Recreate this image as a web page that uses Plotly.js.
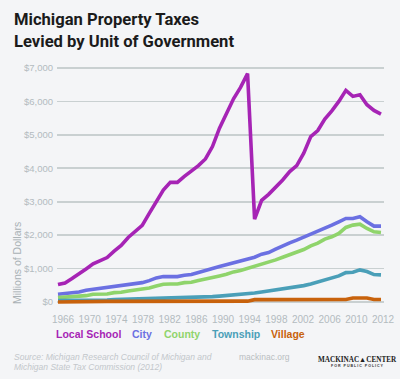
<!DOCTYPE html>
<html>
<head>
<meta charset="utf-8">
<script src="https://cdn.plot.ly/plotly-3.0.1.min.js"></script>
<style>
  html, body { margin: 0; padding: 0; background: #f4f5f7; }
  #chart { width: 400px; height: 379px; }
</style>
</head>
<body>
<div id="chart"></div>
<script>
// ---------------- data ----------------
const years = [1966,1967,1968,1969,1970,1971,1972,1973,1974,1975,1976,1977,1978,1979,1980,
  1981,1982,1983,1984,1985,1986,1987,1988,1989,1990,1991,1992,1993,1994,1995,1996,1997,1998,
  1999,2000,2001,2002,2003,2004,2005,2006,2007,2008,2009,2010,2011,2012];

const localSchool = [520,570,700,860,990,1140,1250,1330,1520,1690,1930,2110,2290,2650,2980,
  3350,3580,3580,3760,3920,4080,4280,4650,5200,5620,6080,6420,6830,2480,3040,3220,3430,3650,
  3900,4080,4450,4950,5130,5470,5720,6000,6330,6150,6200,5900,5730,5620];

const city = [230,250,260,300,350,380,390,420,470,480,520,540,580,640,720,
  760,760,760,800,820,880,950,1000,1060,1120,1170,1230,1290,1340,1430,1480,1580,1680,
  1770,1850,1950,2030,2120,2200,2300,2400,2500,2500,2550,2400,2270,2270];

const county = [130,140,170,180,190,230,230,240,280,290,330,360,370,420,480,
  530,540,540,580,590,640,680,730,780,830,900,940,1000,1070,1130,1190,1260,1340,
  1420,1500,1570,1680,1760,1880,1950,2050,2230,2300,2330,2200,2100,2080];

const township = [40,40,40,45,50,50,50,55,70,75,80,85,95,110,120,
  130,135,135,135,135,140,150,160,175,190,210,230,250,270,300,330,350,380,
  410,450,490,540,600,650,700,780,880,890,960,910,820,810];

const village = [0,5,20,20,20,20,20,20,20,20,20,20,20,20,20,
  20,20,20,20,20,20,20,20,20,25,25,25,25,70,70,70,70,70,
  70,70,70,75,75,75,75,75,75,120,120,120,75,75];

const seriesNames = ['Local School','City','County','Township','Village'];
const seriesValues = [localSchool, city, county, township, village];
const seriesColors = ['#a624b5','#6b70e2','#8fd46b','#4a9fb8','#c8620c'];

const xTickLabels = ['1966','1970','1974','1978','1982','1986','1990','1994','1998','2002','2006','2010','2012'];
const yTickValues = [0,1000,2000,3000,4000,5000,6000,7000];
const yTickLabels = ['$0','$1,000','$2,000','$3,000','$4,000','$5,000','$6,000','$7,000'];

// ---------------- layout helpers (pixel -> paper) ----------------
const W = 400, H = 379;
const M = {l: 57, r: 16, t: 60, b: 71};
const PW = W - M.l - M.r, PH = H - M.t - M.b;
const px = x => (x - M.l) / PW;
const py = y => (H - M.b - y) / PH;

const traces = seriesNames.map((name, i) => ({
  type: 'scatter', mode: 'lines', name: name,
  x: years, y: seriesValues[i],
  line: {color: seriesColors[i], width: 3.6},
  xaxis: 'x', yaxis: 'y', hoverinfo: 'skip'
}));
// invisible trace carrying the label axis
traces.push({
  type: 'scatter', mode: 'lines', x: xTickLabels, y: xTickLabels.map(() => null),
  xaxis: 'x2', yaxis: 'y', showlegend: false, hoverinfo: 'skip'
});

const tickFont = {family: 'Liberation Sans, Arial, sans-serif', size: 10, color: '#b3bbbf'};
const titleFont = {family: 'Roboto, Liberation Sans, Arial, sans-serif', size: 16.6, color: '#1b1b1b'};

const annotations = [];
// title
annotations.push({text: '<b>Michigan Property Taxes</b>', xref: 'paper', yref: 'paper',
  x: px(12), y: py(19.8), xanchor: 'left', yanchor: 'middle', showarrow: false, font: titleFont});
annotations.push({text: '<b>Levied by Unit of Government</b>', xref: 'paper', yref: 'paper',
  x: px(12), y: py(41.8), xanchor: 'left', yanchor: 'middle', showarrow: false, font: titleFont});
// y axis title
annotations.push({text: 'Millions of Dollars', xref: 'paper', yref: 'paper',
  x: px(17), y: py(263), xanchor: 'center', yanchor: 'middle', textangle: -90, showarrow: false,
  font: {family: 'Liberation Sans, Arial, sans-serif', size: 10.5, color: '#a9b1b5'}});
// legend as coloured words
const legendX = [55, 131, 163, 211, 270];
seriesNames.forEach((name, i) => {
  annotations.push({text: '<b>' + name + '</b>', xref: 'paper', yref: 'paper',
    x: px(legendX[i] - 1), y: py(334), xanchor: 'left', yanchor: 'middle', showarrow: false,
    font: {family: 'Liberation Sans, Arial, sans-serif', size: 10.5, color: seriesColors[i]}});
});
// source
annotations.push({text: '<i>Source: Michigan Research Council of Michigan and</i>', xref: 'paper', yref: 'paper',
  x: px(12), y: py(357), xanchor: 'left', yanchor: 'middle', showarrow: false,
  font: {family: 'Liberation Sans, Arial, sans-serif', size: 8.5, color: '#c3c7cb'}});
annotations.push({text: '<i>Michigan State Tax Commission (2012)</i>', xref: 'paper', yref: 'paper',
  x: px(12), y: py(367), xanchor: 'left', yanchor: 'middle', showarrow: false,
  font: {family: 'Liberation Sans, Arial, sans-serif', size: 8.5, color: '#c3c7cb'}});
annotations.push({text: 'mackinac.org', xref: 'paper', yref: 'paper',
  x: px(264.5), y: py(357), xanchor: 'center', yanchor: 'middle', showarrow: false,
  font: {family: 'Liberation Sans, Arial, sans-serif', size: 8.5, color: '#b9bdc1'}});
// logo text
annotations.push({text: '<b>MACKINAC\u25B2CENTER</b>', xref: 'paper', yref: 'paper',
  x: px(357), y: py(359.5), xanchor: 'center', yanchor: 'middle', showarrow: false,
  font: {family: 'Liberation Serif, Times New Roman, serif', size: 7.2, color: '#222'}});
annotations.push({text: '<b>F O R   P U B L I C   P O L I C Y</b>', xref: 'paper', yref: 'paper',
  x: px(357), y: py(365.5), xanchor: 'center', yanchor: 'middle', showarrow: false,
  font: {family: 'Liberation Sans, Arial, sans-serif', size: 3.6, color: '#333'}});

const layout = {
  width: W, height: H,
  margin: M,
  paper_bgcolor: '#f4f5f7', plot_bgcolor: '#f4f5f7',
  showlegend: false,
  xaxis: {
    type: 'linear', range: [1965.86, 2012.43],
    showgrid: false, zeroline: false, showline: false, showticklabels: false, ticks: ''
  },
  xaxis2: {
    type: 'category', overlaying: 'x', anchor: 'y', side: 'bottom',
    categoryorder: 'array', categoryarray: xTickLabels,
    range: [-0.225, 12.0375],
    tickmode: 'array', tickvals: xTickLabels, ticktext: xTickLabels,
    showgrid: false, zeroline: false, showline: false, ticks: '',
    tickfont: tickFont, ticklabelstandoff: 4
  },
  yaxis: {
    range: [-179.5, 7239.3],
    tickmode: 'array', tickvals: yTickValues, ticktext: yTickLabels,
    showgrid: true, gridcolor: '#c9d0d1', gridwidth: 1.6,
    zeroline: false, showline: false, ticks: '',
    tickfont: {family: 'Liberation Sans, Arial, sans-serif', size: 9.5, color: '#b3bbbf'},
    ticklabelstandoff: 3
  },
  annotations: annotations
};

Plotly.newPlot('chart', traces, layout, {displayModeBar: false, staticPlot: true});
</script>
</body>
</html>
